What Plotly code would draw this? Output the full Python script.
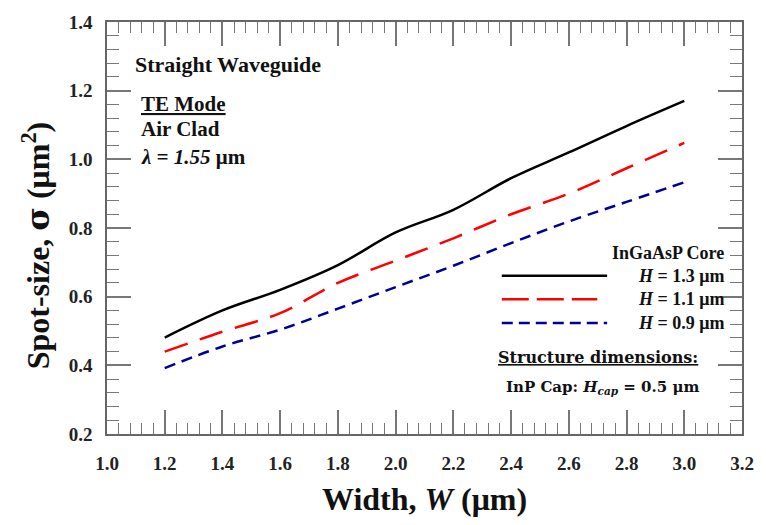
import plotly.graph_objects as go

# ---- data ----
W = [1.2, 1.4, 1.6, 1.8, 2.0, 2.2, 2.4, 2.6, 2.8, 3.0]
sigma_H13 = [0.481, 0.560, 0.620, 0.692, 0.787, 0.853, 0.945, 1.020, 1.097, 1.170]
sigma_H11 = [0.440, 0.498, 0.552, 0.640, 0.705, 0.770, 0.840, 0.900, 0.974, 1.048]
sigma_H09 = [0.392, 0.455, 0.504, 0.565, 0.628, 0.690, 0.756, 0.819, 0.876, 0.933]
series_names = ["H = 1.3 μm", "H = 1.1 μm", "H = 0.9 μm"]
x_ticks = [1.0, 1.2, 1.4, 1.6, 1.8, 2.0, 2.2, 2.4, 2.6, 2.8, 3.0, 3.2]
y_ticks = [0.2, 0.4, 0.6, 0.8, 1.0, 1.2, 1.4]

FONT = "Liberation Serif"
FONT2 = "DejaVu Serif"
W_PX, H_PX = 766, 525
L, R, T, B = 107, 752, 15, 434


def px(xp, yp):
    return (xp - L) / (R - L), (B - yp) / (B - T)


fig = go.Figure()
fig.add_trace(go.Scatter(x=W, y=sigma_H13, mode="lines", name=series_names[0],
                         line=dict(color="black", width=2.5, shape="spline")))
fig.add_trace(go.Scatter(x=W, y=sigma_H11, mode="lines", name=series_names[1],
                         line=dict(color="#ff0000", width=2.5, dash="24px,13px", shape="spline")))
fig.add_trace(go.Scatter(x=W, y=sigma_H09, mode="lines", name=series_names[2],
                         line=dict(color="#000099", width=2.5, dash="11px,7px", shape="spline")))

axis_common = dict(
    showline=True, linecolor="#666666", linewidth=1.5, mirror="allticks",
    ticks="inside", ticklen=24, tickwidth=1.5, tickcolor="#777777",
    showgrid=False, zeroline=False,
    tickfont=dict(family=FONT, size=19, color="#222222", weight="bold"),
)

fig.update_xaxes(range=[1.0, 3.2], tickvals=x_ticks,
                 ticktext=[f"{v:.1f}" for v in x_ticks],
                 minor=dict(dtick=0.04, tick0=1.0, ticks="inside", ticklen=11,
                            tickwidth=1.2, tickcolor="#777777", showgrid=False),
                 ticklabelstandoff=11, **axis_common)
fig.update_yaxes(range=[0.2, 1.4], tickvals=y_ticks,
                 ticktext=[f"{v:.1f}" for v in y_ticks],
                 minor=dict(dtick=0.04, tick0=0.2, ticks="inside", ticklen=12,
                            tickwidth=1.2, tickcolor="#777777", showgrid=False),
                 ticklabelstandoff=9, **axis_common)

ann = []


def add_text(text, x, y, anchor="left", size=16, family=FONT):
    xp, yp = px(x, y)
    ann.append(dict(text=f"<b>{text}</b>", x=xp, y=yp, xref="paper", yref="paper",
                    xanchor=anchor, yanchor="middle", showarrow=False,
                    font=dict(family=family, size=size, color="#111111")))


add_text("Straight Waveguide", 133, 58, size=22)
add_text("<u>TE Mode</u>", 139, 98, size=21)
add_text("Air Clad", 139, 124, size=21)
add_text("<i>λ = 1.55</i> μm", 139, 152, size=21)

add_text("InGaAsP Core", 736, 250, anchor="right", size=18)
add_text("<i>H</i> = 1.3 μm", 736, 273, anchor="right", size=18)
add_text("<i>H</i> = 1.1 μm", 736, 297, anchor="right", size=18)
add_text("<i>H</i> = 0.9 μm", 736, 321, anchor="right", size=18)
add_text("<u>Structure dimensions:</u>", 606, 356, anchor="center", size=16, family=FONT2)
add_text("InP Cap: <i>H<sub>cap</sub></i> = 0.5 μm", 610, 387, anchor="center", size=15, family=FONT2)

# axis titles
xp, yp = px((L + R) / 2, 500)
ann.append(dict(text="<b>Width, <i>W</i> (μm)</b>", x=xp, y=yp, xref="paper", yref="paper",
                xanchor="center", yanchor="middle", showarrow=False,
                font=dict(family=FONT, size=32, color="#111111")))
xp, yp = px(35, 242)
ann.append(dict(text="<b>Spot-size, <span style='font-family:DejaVu Serif'>σ</span> (μm<sup>2</sup>)</b>",
                x=xp, y=yp, xref="paper", yref="paper",
                xanchor="center", yanchor="middle", showarrow=False, textangle=-90,
                font=dict(family=FONT, size=32, color="#111111")))

# legend samples
shapes = []
legend_styles = [("black", "solid", 615, 273), ("#ff0000", "27px,8px", 605, 297),
                 ("#000099", "11px,6px", 615, 321)]
for color, dash, xend, yy in legend_styles:
    x0, y0 = px(508, yy)
    x1, _ = px(xend, yy)
    shapes.append(dict(type="line", xref="paper", yref="paper", x0=x0, x1=x1, y0=y0, y1=y0,
                       line=dict(color=color, width=2.5, dash=dash)))

fig.update_layout(
    width=W_PX, height=H_PX,
    margin=dict(l=L, r=W_PX - R, t=T, b=H_PX - B),
    plot_bgcolor="white", paper_bgcolor="white",
    showlegend=False, annotations=ann, shapes=shapes,
)

fig.write_html("out.html")
